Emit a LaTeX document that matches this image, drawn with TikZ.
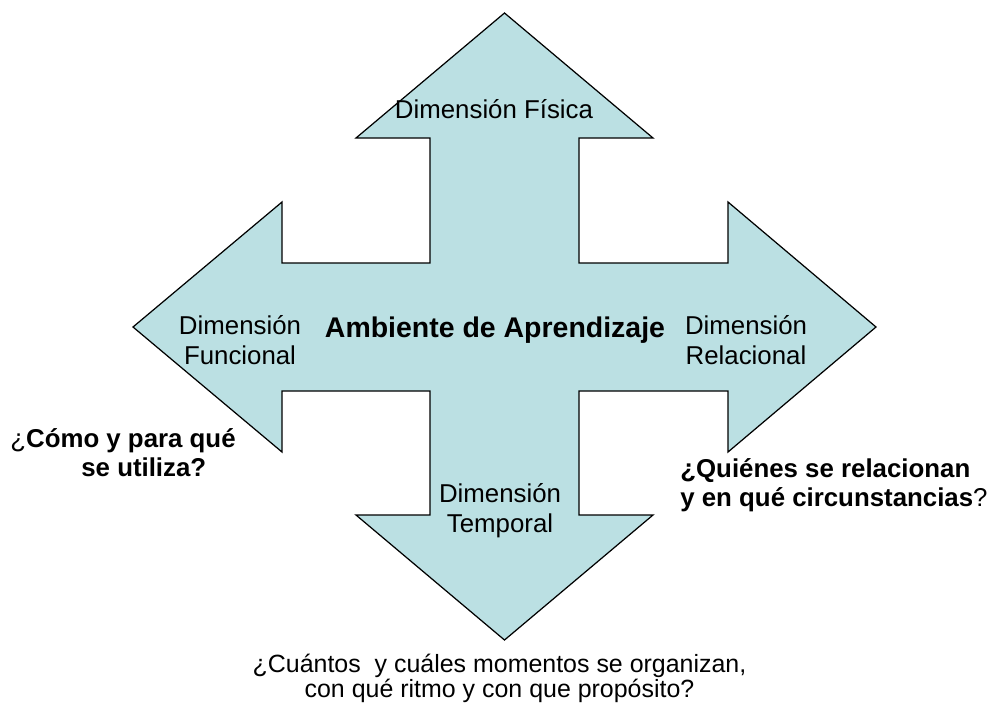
\documentclass[tikz,border=0pt]{standalone}
\usepackage{fontspec}
\setmainfont{Liberation Sans}
\setsansfont{Liberation Sans}
\definecolor{arrowfill}{HTML}{BBE0E3}

\begin{document}
\begin{tikzpicture}[
    x=0.02cm,y=-0.02cm,
    font=\sffamily,
    quad/.style={draw=black,fill=arrowfill,line width=0.7pt,line join=miter},
    dimnode/.style={inner sep=0pt,align=center,font=\sffamily\fontsize{14.7}{17}\selectfont},
    titlenode/.style={inner sep=0pt,font=\sffamily\bfseries\fontsize{16.2}{19}\selectfont},
    asknode/.style={inner sep=0pt,align=left,font=\sffamily\bfseries\fontsize{14.7}{16.5}\selectfont},
    asklow/.style={inner sep=0pt,align=center,font=\sffamily\fontsize{14.2}{14.2}\selectfont},
    ]
    \useasboundingbox (0,0) rectangle (1000,704);
    % four-way arrow
    \draw[quad] (504.5,13) -- (653,138) -- (579,138) -- (579,263) -- (728,263) -- (728,202)
        -- (876,327) -- (728,452) -- (728,391) -- (579,391) -- (579,515) -- (653,515)
        -- (504.5,640) -- (356,515) -- (430,515) -- (430,391) -- (282,391) -- (282,452)
        -- (133,327) -- (282,202) -- (282,263) -- (430,263) -- (430,138) -- (356,138) -- cycle;

    \node[titlenode,anchor=base] (centro) at (495,337) {Ambiente de Aprendizaje};
    \node[dimnode,anchor=base] (fisica) at (494,118) {Dimensión Física};
    \node[dimnode] (funcional) at (240,340) {Dimensión\\Funcional};
    \node[dimnode] (relacional) at (746,340) {Dimensión\\Relacional};
    \node[dimnode] (temporal) at (500,510.5) {Dimensión\\Temporal};

    % questions
    \node[asknode,anchor=west] (como) at (10,453)
        {{\mdseries ¿}Cómo y para qué\\\hspace*{2.75em}se utiliza?};
    \node[asknode,anchor=west] (quienes) at (680,485.5)
        {¿Quiénes se relacionan\\y en qué circunstancias{\mdseries ?}};
    \node[asklow] (cuantos) at (499.5,678)
        {¿Cuántos\ \ y cuáles momentos se organizan,\\con qué ritmo y con que propósito?};
\end{tikzpicture}
\end{document}
